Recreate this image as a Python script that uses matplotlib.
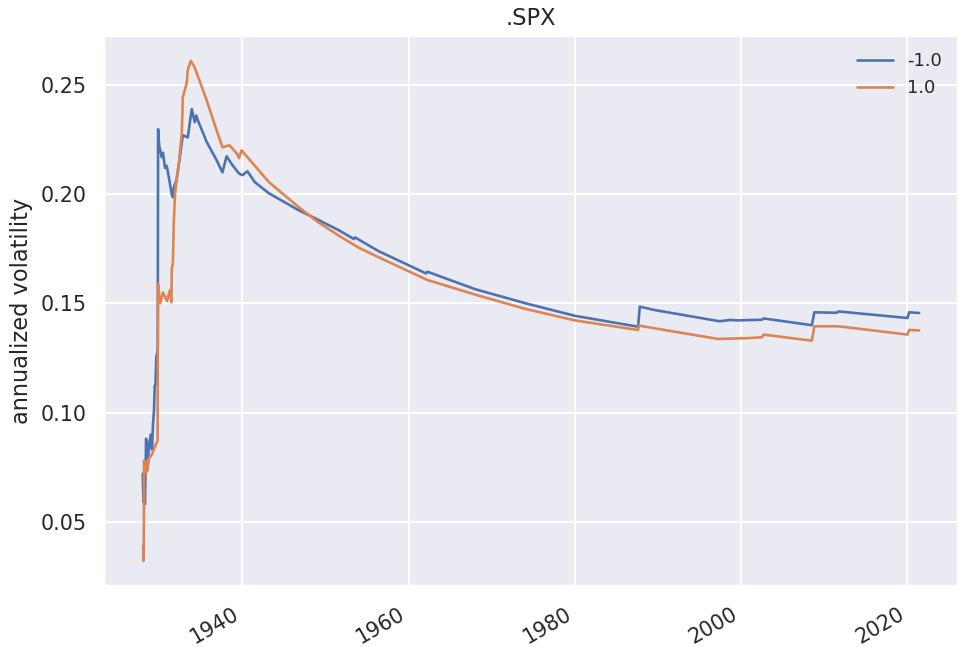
import matplotlib
matplotlib.use("Agg")
import matplotlib.pyplot as plt
import seaborn as sns
import pandas as pd
import numpy as np

# expanding-window annualized volatility (decimal years)
years_neg = [1928.02, 1928.10, 1928.18, 1928.28, 1928.42, 1928.55, 1928.66, 1928.80, 1929.01,
             1929.13, 1929.25, 1929.37, 1929.45, 1929.55, 1929.65, 1929.75, 1929.82, 1929.86,
             1930.00, 1930.30, 1930.45, 1930.69, 1930.90, 1931.28, 1931.50, 1931.64, 1931.76,
             1932.12, 1932.48, 1932.84, 1933.43, 1933.91, 1934.27, 1934.45, 1934.63, 1935.70,
             1936.90, 1937.60, 1938.10, 1938.80, 1939.60, 1940.00, 1940.60, 1941.50, 1943.20,
             1946.80, 1949.00, 1951.60, 1953.40, 1953.55, 1956.40, 1962.10, 1962.25, 1968.00,
             1974.10, 1980.00, 1987.60, 1987.80, 1989.50, 1997.40, 1998.70, 1999.50, 2002.50,
             2002.70, 2008.50, 2008.80, 2011.50, 2011.70, 2020.00, 2020.20, 2021.40]
vol_neg = [0.072, 0.059, 0.070, 0.058, 0.088, 0.080, 0.079, 0.086, 0.090,
           0.083, 0.0948, 0.101, 0.112, 0.113, 0.126, 0.127, 0.130, 0.2298,
           0.222, 0.217, 0.219, 0.212, 0.213, 0.205, 0.200, 0.1986, 0.203,
           0.2073, 0.217, 0.227, 0.226, 0.239, 0.233, 0.236, 0.234, 0.224,
           0.2156, 0.210, 0.2174, 0.2133, 0.2095, 0.2087, 0.2105, 0.2055, 0.2004,
           0.1926, 0.1885, 0.1835, 0.1795, 0.1802, 0.1739, 0.1637, 0.1645, 0.1565,
           0.1500, 0.1443, 0.1393, 0.1485, 0.1470, 0.1418, 0.1424, 0.1422, 0.1425,
           0.1431, 0.1400, 0.1459, 0.1457, 0.1463, 0.1433, 0.1459, 0.1456]

years_pos = [1928.06, 1928.10, 1928.14, 1928.18, 1928.30, 1928.42, 1928.54, 1928.78, 1929.13,
             1929.37, 1929.61, 1929.80, 1929.85, 1930.10, 1930.45, 1930.93, 1931.28, 1931.45,
             1931.52, 1931.64, 1931.76, 1931.90, 1932.12, 1932.36, 1932.72, 1932.84, 1933.31,
             1933.43, 1933.79, 1934.27, 1935.70, 1936.90, 1937.60, 1938.45, 1939.30, 1939.60,
             1939.90, 1943.20, 1946.80, 1949.00, 1951.60, 1954.00, 1956.40, 1962.20, 1968.00,
             1974.10, 1980.00, 1987.60, 1987.70, 1997.20, 2001.00, 2002.50, 2002.70, 2008.50,
             2008.80, 2011.70, 2020.00, 2020.20, 2021.40]
vol_pos = [0.039, 0.032, 0.036, 0.078, 0.072, 0.077, 0.073, 0.079, 0.081,
           0.0833, 0.0856, 0.087, 0.159, 0.150, 0.155, 0.151, 0.156, 0.1505,
           0.1664, 0.168, 0.188, 0.200, 0.2077, 0.214, 0.2284, 0.2445, 0.251,
           0.257, 0.261, 0.258, 0.2431, 0.2293, 0.2215, 0.2224, 0.2188, 0.2165,
           0.2201, 0.2055, 0.194, 0.1875, 0.1810, 0.1755, 0.1711, 0.1608, 0.1540,
           0.1474, 0.1422, 0.1378, 0.1398, 0.1337, 0.1341, 0.1345, 0.1357, 0.1329,
           0.1395, 0.1395, 0.1357, 0.1378, 0.1376]

series_labels = ["-1.0", "1.0"]


def to_dates(years):
    out = []
    for y in years:
        base = pd.Timestamp(year=int(y), month=1, day=1)
        out.append(base + pd.Timedelta(days=(y - int(y)) * 365.25))
    return pd.to_datetime(out)


sns.set_theme()

# the reference looks like a notebook figure rendered at a higher dpi
dpi = 135
fig = plt.figure(figsize=(959 / dpi, 647 / dpi), dpi=dpi)
ax = fig.add_axes([0.1084, 0.0943, 0.8905, 0.850])

ax.plot(to_dates(years_neg), vol_neg, label=series_labels[0], lw=1.4)
ax.plot(to_dates(years_pos), vol_pos, label=series_labels[1], lw=1.4)

ax.set_title(".SPX")
ax.set_ylabel("annualized volatility")
ax.legend(loc="upper right", frameon=False, fontsize=9.5)

for lbl in ax.get_xticklabels():
    lbl.set_rotation(30)
    lbl.set_ha("right")

fig.savefig("out.png", dpi=dpi)
